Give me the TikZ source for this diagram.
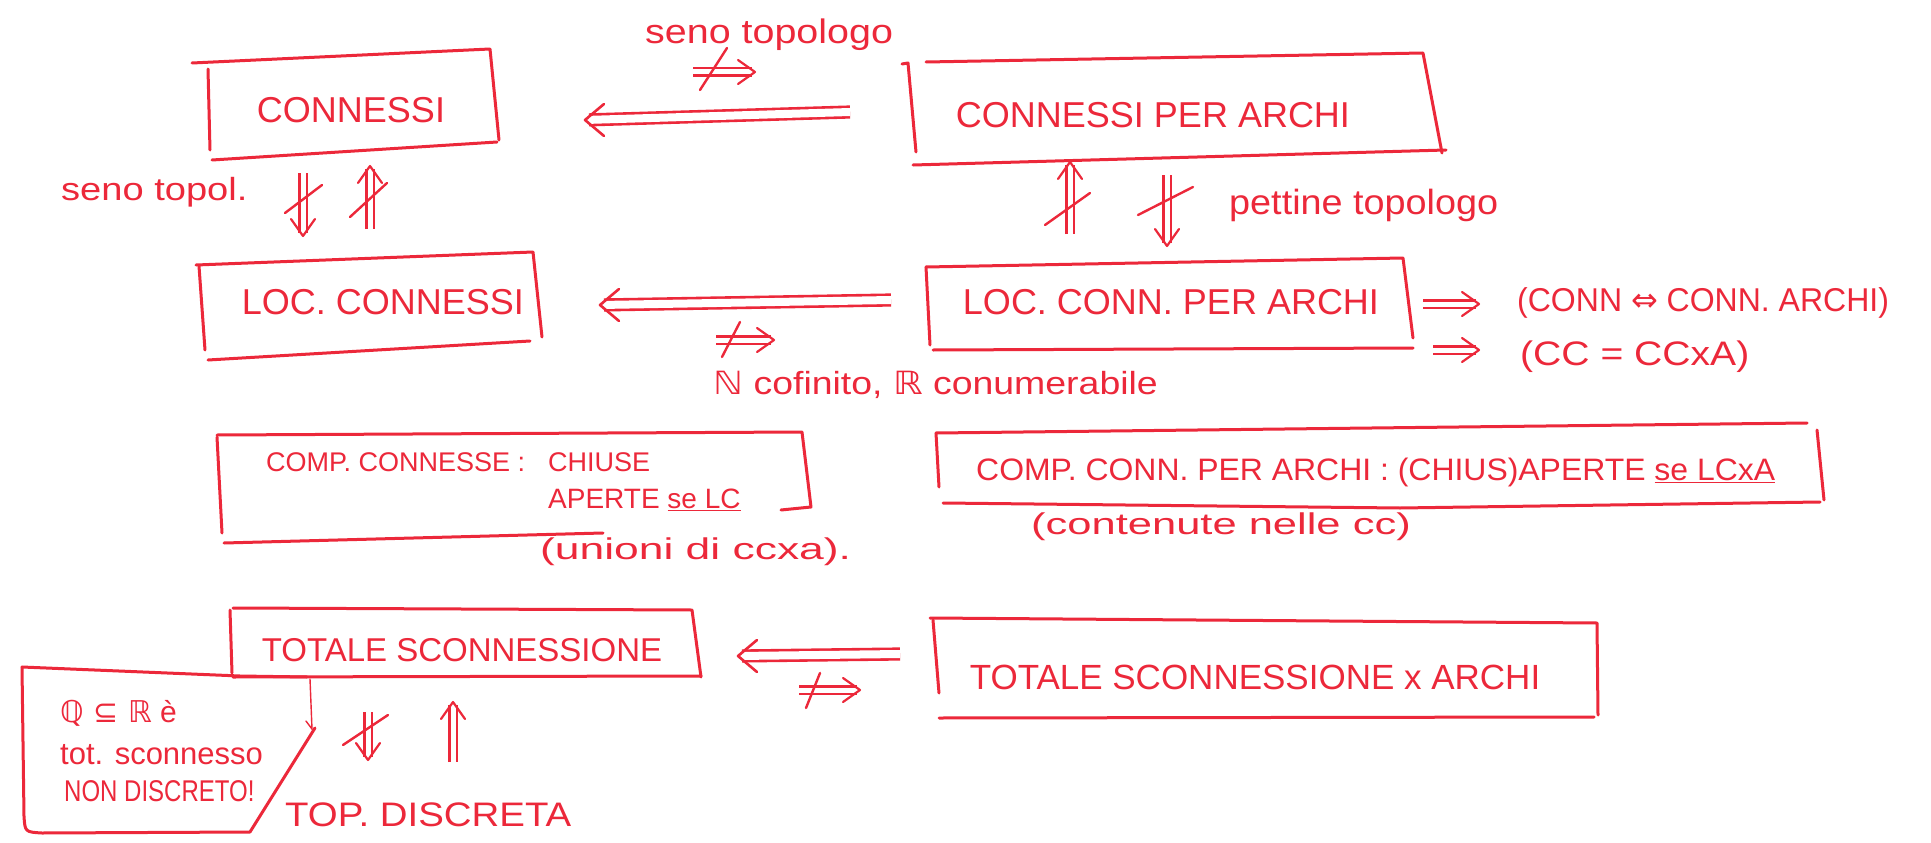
\documentclass[tikz,border=0pt]{standalone}
\usepackage{fontspec}
\usepackage{graphicx}
\setmainfont{Liberation Sans}
\newfontfamily\symfont{DejaVu Sans}
\usetikzlibrary{arrows.meta}
\definecolor{pen}{RGB}{236,40,58}
\newcommand\penfs[1]{\fontsize{#1}{#1}\selectfont}
\newcommand\wide[2]{\scalebox{#1}[1]{#2}}

\begin{document}
\begin{tikzpicture}[x=1pt,y=-1pt,
  stroke/.style={draw=pen,line width=3pt,line cap=round,line join=round},
  fine stroke/.style={draw=pen,line width=1.4pt,line cap=round},
  lbl/.style={text=pen,inner sep=0pt,anchor=center},
  bigimp/.style={draw=pen,line width=2.6pt,double=white,double distance=8pt,shorten >=4pt},
  smallimp/.style={draw=pen,line width=2.2pt,double=white,double distance=5pt,shorten >=3pt},
  slash/.style={draw=pen,line width=2.4pt,line cap=round},
  % open chevron heads, drawn pointing along +x and rotated into place
  bighead/.pic={\draw[draw=pen,line width=2.6pt,line cap=round,line join=round] (-19,-16) -- (0,0) -- (-19,16);},
  smallhead/.pic={\draw[draw=pen,line width=2.2pt,line cap=round,line join=round] (-17,-12) -- (0,0) -- (-17,12);}]

\fill[white] (0,0) rectangle (1931,843);
\useasboundingbox (0,0) rectangle (1931,843);

% ---------- box outlines, pen strokes ----------
% connessi
\draw[stroke] (192,63) -- (490,49) -- (499,140);
\draw[stroke] (497,142) -- (212,160);
\draw[stroke] (208,69) -- (210,150);
% connessi per archi
\draw[stroke] (926,62) -- (1423,53) -- (1442,153);
\draw[stroke] (1446,150) -- (913,165);
\draw[stroke] (902,64) -- (908,63) -- (916,152);
% loc. connessi
\draw[stroke] (196,265) -- (533,252) -- (542,337);
\draw[stroke] (530,341) -- (208,360);
\draw[stroke] (199,266) -- (205,350);
% loc. conn. per archi
\draw[stroke] (926,267) -- (1403,258) -- (1413,338);
\draw[stroke] (1413,348) -- (933,350);
\draw[stroke] (926,267) -- (930,345);
% componenti connesse
\draw[stroke] (217,435) -- (802,432) -- (811,507) -- (781,510);
\draw[stroke] (603,533) -- (224,543);
\draw[stroke] (217,437) -- (222,533);
% componenti connesse per archi
\draw[stroke] (936,433) -- (1807,423);
\draw[stroke] (1817,430) -- (1824,500);
\draw[stroke] (1820,502) -- (1400,508) -- (943,503);
\draw[stroke] (936,433) -- (939,487);
% totale sconnessione
\draw[stroke] (233,608) -- (692,610) -- (701,677);
\draw[stroke] (701,676) -- (233,677);
\draw[stroke] (230,610) -- (232,673);
% note on Q
\draw[stroke] (22,667) -- (240,676) -- (307,677);
\draw[stroke] (22,667) -- (24,816) .. controls (25,832) .. (42,833) -- (250,832) -- (315,728);
\draw[fine stroke] (310,679) -- (312,729) -- (306,721);
% totale sconnessione per archi
\draw[stroke] (930,618) -- (1597,623) -- (1598,715);
\draw[stroke] (1594,717) -- (939,718);
\draw[stroke] (933,620) -- (939,693);

% ---------- texts ----------
\node[lbl,font=\penfs{36}] (conn) at (351,110) {CONNESSI};
\node[lbl,font=\penfs{36}] (connarchi) at (1153,115) {CONNESSI PER ARCHI};
\node[lbl,font=\penfs{36}] (locconn) at (383,302) {LOC. CONNESSI};
\node[lbl,font=\penfs{36}] (locarchi) at (1171,302) {LOC. CONN. PER ARCHI};

\node[lbl,anchor=west,font=\penfs{27}] (comp) at (266,462) {COMP. CONNESSE :};
\node[lbl,anchor=west,font=\penfs{27}] (chiuse) at (548,462) {CHIUSE};
\node[lbl,anchor=west,font=\penfs{28}] (aperte) at (548,500) {APERTE \underline{se LC}};
\node[lbl,anchor=west,font=\penfs{30}] (unioni) at (540,552) {\wide{1.48}{(unioni di ccxa).}};

\node[lbl,anchor=west,font=\penfs{31}] (comparchi) at (976,472) {\wide{1.03}{COMP. CONN. PER ARCHI : (CHIUS)APERTE \underline{se LCxA}}};
\node[lbl,anchor=west,font=\penfs{30}] (contenute) at (1031,527) {\wide{1.45}{(contenute nelle cc)}};

\node[lbl,font=\penfs{33}] (totale) at (462,650) {TOTALE SCONNESSIONE};
\node[lbl,font=\penfs{35}] (totarchi) at (1255,677) {TOTALE SCONNESSIONE x ARCHI};

\node[lbl,anchor=west,font=\penfs{30}] (q1) at (60,713) {{\symfont ℚ ⊆ ℝ} è};
\node[lbl,anchor=west,font=\penfs{31}] (q2) at (60,755) {tot. sconnesso};
\node[lbl,anchor=west,font=\penfs{30}] (q3) at (64,791) {\wide{0.8}{NON DISCRETO!}};
\node[lbl,anchor=west,font=\penfs{34}] (discreta) at (285,815) {\wide{1.13}{TOP. DISCRETA}};

\node[lbl,anchor=west,font=\penfs{34}] (seno) at (645,35) {\wide{1.16}{seno topologo}};
\node[lbl,anchor=west,font=\penfs{32}] (senotop) at (61,192) {\wide{1.19}{seno topol.}};
\node[lbl,anchor=west,font=\penfs{35}] (pettine) at (1229,205) {\wide{1.08}{pettine topologo}};
\node[lbl,anchor=west,font=\penfs{32}] (cofinito) at (713,385) {\wide{1.17}{{\symfont ℕ} cofinito, {\symfont ℝ} conumerabile}};
\node[lbl,anchor=west,font=\penfs{33}] (equiv) at (1517,303) {\wide{0.97}{(CONN {\symfont ⇔} CONN. ARCHI)}};
\node[lbl,anchor=west,font=\penfs{34}] (ccxa) at (1520,357) {\wide{1.15}{(CC = CCxA)}};

% ---------- connector end points ----------
\coordinate (t1) at (850,112);  \coordinate (t2) at (585,120);
\coordinate (m1) at (891,300);  \coordinate (m2) at (600,305);
\coordinate (b1) at (900,654);  \coordinate (b2) at (738,656);
\coordinate (n1) at (693,72);   \coordinate (n2) at (755,72);
\coordinate (n3) at (716,340);  \coordinate (n4) at (774,340);
\coordinate (n5) at (799,690);  \coordinate (n6) at (860,690);
\coordinate (r1) at (1423,304); \coordinate (r2) at (1479,304);
\coordinate (r3) at (1433,350); \coordinate (r4) at (1479,350);
\coordinate (v1) at (303,173);  \coordinate (v2) at (303,236);
\coordinate (v3) at (370,229);  \coordinate (v4) at (370,166);
\coordinate (w1) at (1070,234); \coordinate (w2) at (1070,162);
\coordinate (w3) at (1167,175); \coordinate (w4) at (1167,246);
\coordinate (z1) at (368,712);  \coordinate (z2) at (368,760);
\coordinate (z3) at (453,762);  \coordinate (z4) at (453,702);

% ---------- implications ----------
\draw[bigimp] (t1) -- (t2);  \pic[rotate=180] at (t2) {bighead};
\draw[bigimp] (m1) -- (m2);  \pic[rotate=180] at (m2) {bighead};
\draw[bigimp] (b1) -- (b2);  \pic[rotate=180] at (b2) {bighead};
\draw[smallimp] (n1) -- (n2); \pic at (n2) {smallhead};
\draw[smallimp] (n3) -- (n4); \pic at (n4) {smallhead};
\draw[smallimp] (n5) -- (n6); \pic at (n6) {smallhead};
\draw[smallimp] (r1) -- (r2); \pic at (r2) {smallhead};
\draw[smallimp] (r3) -- (r4); \pic at (r4) {smallhead};
\draw[smallimp] (v1) -- (v2); \pic[rotate=-90] at (v2) {smallhead};
\draw[smallimp] (v3) -- (v4); \pic[rotate=90] at (v4) {smallhead};
\draw[smallimp] (w1) -- (w2); \pic[rotate=90] at (w2) {smallhead};
\draw[smallimp] (w3) -- (w4); \pic[rotate=-90] at (w4) {smallhead};
\draw[smallimp] (z1) -- (z2); \pic[rotate=-90] at (z2) {smallhead};
\draw[smallimp] (z3) -- (z4); \pic[rotate=90] at (z4) {smallhead};

% ---------- strike-throughs for non-implications ----------
\draw[slash] (700,90) -- (727,48);
\draw[slash] (722,357) -- (740,322);
\draw[slash] (806,708) -- (820,673);
\draw[slash] (285,213) -- (322,185);
\draw[slash] (350,217) -- (387,183);
\draw[slash] (1045,225) -- (1090,193);
\draw[slash] (1138,215) -- (1193,187);
\draw[slash] (343,745) -- (388,715);
\end{tikzpicture}
\end{document}
